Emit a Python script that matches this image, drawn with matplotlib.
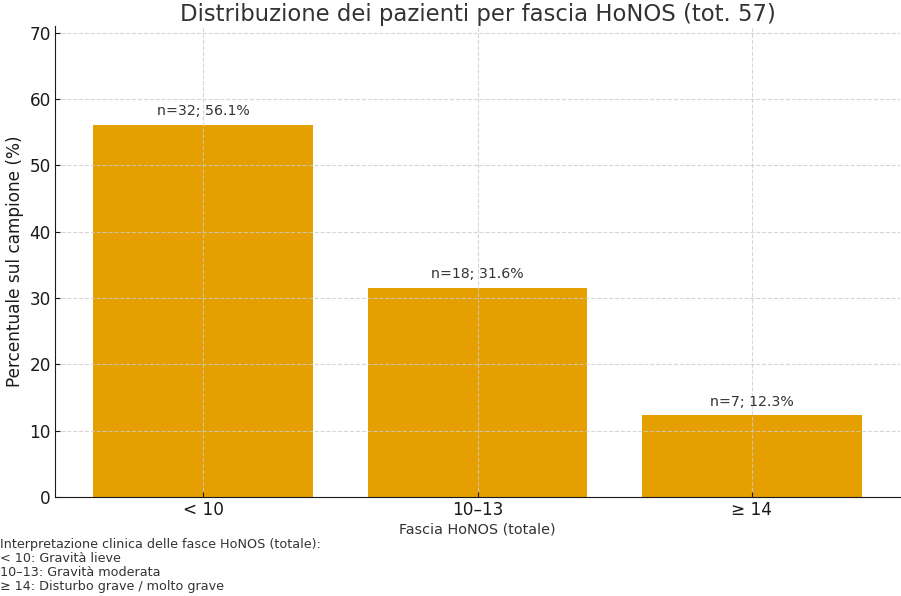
import matplotlib
matplotlib.use("Agg")
import matplotlib.pyplot as plt

plt.rcParams["font.family"] = ["DejaVu Sans"]

# Dati
fasce = ["< 10", "10–13", "≥ 14"]
conteggi = [32, 18, 7]
percentuali = [56.1, 31.6, 12.3]
totale = 57

note = ("Interpretazione clinica delle fasce HoNOS (totale):\n"
        "< 10: Gravità lieve\n"
        "10–13: Gravità moderata\n"
        "≥ 14: Disturbo grave / molto grave")

testo = "#333333"
scuro = "#1a1a1a"

fig = plt.figure(figsize=(9.01, 5.96), dpi=100)
ax = fig.add_axes([0.061, 0.166, 0.938, 0.790])

x = list(range(len(fasce)))
ax.bar(x, percentuali, width=0.8, color="#E69F00")

for xi, n, p in zip(x, conteggi, percentuali):
    ax.text(xi, p + 1.0, f"n={n}; {p:.1f}%", ha="center", va="bottom",
            fontsize=10.2, color=testo)

ax.set_xticks(x)
ax.set_xticklabels(fasce)
ax.set_ylim(0, 71)
ax.set_yticks(range(0, 71, 10))
ax.tick_params(axis="both", direction="in", labelsize=12.2, colors=scuro,
               pad=3)

ax.set_title(f"Distribuzione dei pazienti per fascia HoNOS (tot. {totale})",
             fontsize=16.4, color=testo, pad=4)
ax.set_xlabel("Fascia HoNOS (totale)", fontsize=10.4, color=testo, labelpad=2)
ax.set_ylabel("Percentuale sul campione (%)", fontsize=12.2, color=scuro)

ax.grid(True, linestyle="--", color="#cccccc", alpha=0.8, linewidth=0.8)
for s in ["top", "right"]:
    ax.spines[s].set_visible(False)
for s in ["left", "bottom"]:
    ax.spines[s].set_color(scuro)

fig.text(0.0, 0.005, note, ha="left", va="bottom", fontsize=9.2, color=testo,
         linespacing=1.1)

fig.savefig("out.png", dpi=100)
